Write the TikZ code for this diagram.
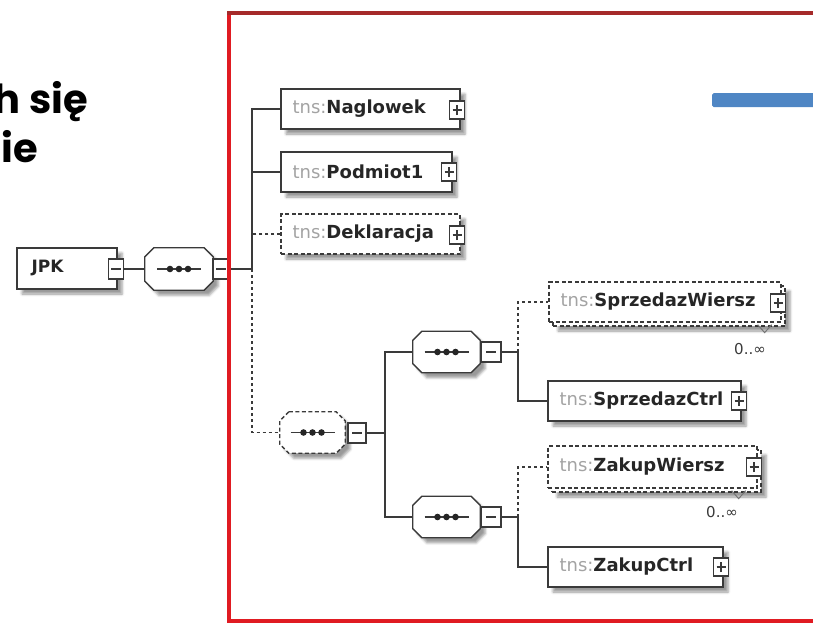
\documentclass[tikz,border=0pt]{standalone}
\usepackage{fontspec}
\usetikzlibrary{shadows.blur,calc}
\newfontfamily\boxfont{DejaVu Sans}
\newfontfamily\headfont{Poppins}

\definecolor{frameRed}{HTML}{E01B22}
\definecolor{frameTop}{HTML}{A52A2A}
\definecolor{barBlue}{HTML}{4F86C4}
\definecolor{ink}{HTML}{3A3A3A}
\definecolor{tnsGray}{HTML}{A3A3A3}
\definecolor{nameInk}{HTML}{262626}

\newcommand\elname[1]{{\color{tnsGray}tns:}{\bfseries\color{nameInk}#1}}

% octagonal compositor outline with the "sequence" glyph inside
\newcommand\octagonat[2][]{%
  \path[seqline,#1]
    ([xshift=9pt]#2.north west) -- ([xshift=-9pt]#2.north east)
    -- ([yshift=-9pt]#2.north east) -- ([yshift=9pt]#2.south east)
    -- ([xshift=-9pt]#2.south east) -- ([xshift=9pt]#2.south west)
    -- ([yshift=9pt]#2.south west) -- ([yshift=-9pt]#2.north west) -- cycle;
  \draw[ink, line width=1.3pt] ([xshift=-22pt]#2.center) -- ([xshift=22pt]#2.center);
  \fill[nameInk] ([xshift=-9pt]#2.center) circle[radius=3.3pt]
             (#2.center) circle[radius=3.3pt]
             ([xshift=9pt]#2.center) circle[radius=3.3pt];}

\pgfdeclarelayer{background}
\pgfsetlayers{background,main}

\tikzset{
  softshadow/.style={blur shadow={shadow xshift=5pt, shadow yshift=-5pt,
      shadow blur radius=2.5pt, shadow opacity=40}},
  elembox/.style={rectangle, draw=ink, line width=1.3pt, fill=white,
      inner sep=0pt, minimum height=40pt, softshadow},
  optbox/.style={elembox, dash pattern=on 4pt off 2.5pt},
  backbox/.style={optbox},
  seqbox/.style={rectangle, inner sep=0pt, minimum width=67pt, minimum height=41pt},
  seqline/.style={draw=ink, line width=1.3pt, fill=white, softshadow},
  optline/.style={dash pattern=on 4pt off 2.5pt},
  signbox/.style={rectangle, draw=ink, line width=1.1pt, fill=white,
      inner sep=0pt, minimum width=15pt, minimum height=18pt},
  plusbox/.style={signbox, path picture={
      \draw[ink, line width=1.1pt]
        ([xshift=-4.5pt]path picture bounding box.center) --
        ([xshift=4.5pt]path picture bounding box.center)
        ([yshift=-5pt]path picture bounding box.center) --
        ([yshift=5pt]path picture bounding box.center);}},
  minusbox/.style={signbox, minimum height=20pt, path picture={
      \draw[ink, line width=1.1pt]
        ([xshift=-5pt]path picture bounding box.center) --
        ([xshift=5pt]path picture bounding box.center);}},
  conn/.style={draw=ink, line width=1.3pt},
  optconn/.style={conn, dash pattern=on 3pt off 3pt},
  elemlabel/.style={anchor=west, inner sep=0pt,
      font=\boxfont\fontsize{18}{20}\selectfont},
  occlabel/.style={inner sep=0pt, text=ink,
      font=\boxfont\fontsize{15}{17}\selectfont},
  headtext/.style={inner sep=0pt, anchor=base east,
      font=\headfont\bfseries\fontsize{40}{46}\selectfont},
}

\begin{document}
\begin{tikzpicture}[x=1pt, y=-1pt]
\useasboundingbox (0,0) rectangle (813,624);

% heading fragment on the left
\node[headtext] (line1) at (88,113) {h się};
\node[headtext] (line2) at (38,162) {nie};

% blue bar at the upper right
\node[fill=barBlue, rounded corners=1.5pt, inner sep=0pt, anchor=north west,
      minimum width=110pt, minimum height=14pt] (bar) at (712,93) {};

% root element and its sequence
\node[elembox, minimum width=100pt, minimum height=41pt] (jpk) at (67,268.5) {};
\node[anchor=west, inner sep=0pt, font=\boxfont\bfseries\fontsize{17}{20}\selectfont,
      text=nameInk] (jpkT) at ($(jpk.west)+(15,0)$) {JPK};
\node[minusbox] (jpkMinus) at (116,269) {};

\node[seqbox, minimum width=68pt, minimum height=42pt] (rseq) at (179,269) {};
\octagonat{rseq}
\node[minusbox, minimum width=16pt] (rseqMinus) at (221,269) {};

% first level children
\node[elembox, minimum width=179pt] (nag) at (370.5,109) {};
\node[elemlabel] (nagT) at ($(nag.west)+(12,0)$) {\elname{Naglowek}};
\node[plusbox] (nagPlus) at (457,110) {};

\node[elembox, minimum width=171pt] (pod) at (366.5,172) {};
\node[elemlabel] (podT) at ($(pod.west)+(12,0)$) {\elname{Podmiot1}};
\node[plusbox] (podPlus) at (449,172) {};

\node[optbox, minimum width=179pt] (dek) at (370.5,234) {};
\node[elemlabel] (dekT) at ($(dek.west)+(12,0)$) {\elname{Deklaracja}};
\node[plusbox] (dekPlus) at (457,235) {};

% optional inner sequence
\node[seqbox, minimum width=65pt] (iseq) at (312.5,432.5) {};
\octagonat[optline]{iseq}
\node[minusbox, minimum width=18pt] (iseqMinus) at (357,433) {};

% upper and lower sequences
\node[seqbox] (useq) at (446.5,352) {};
\octagonat{useq}
\node[minusbox, minimum width=20pt] (useqMinus) at (491,352) {};
\node[seqbox] (lseq) at (446.5,517) {};
\octagonat{lseq}
\node[minusbox, minimum width=20pt] (lseqMinus) at (491,517) {};

% sales rows (0..unbounded) and sales control
\node[backbox, minimum width=232pt] (swBack) at (669,306) {};
\node[optbox, minimum width=232pt, blur shadow={shadow opacity=0}] (sw) at (665,302) {};
\node[elemlabel] (swT) at ($(sw.west)+(12,0)$) {\elname{SprzedazWiersz}};
\node[plusbox] (swPlus) at (778,303) {};
\node[occlabel] (swOcc) at (750,349) {0..∞};

\node[elembox, minimum width=193pt] (sc) at (644.5,401) {};
\node[elemlabel] (scT) at ($(sc.west)+(12,0)$) {\elname{SprzedazCtrl}};
\node[plusbox] (scPlus) at (739,401) {};

% purchase rows (0..unbounded) and purchase control
\node[backbox, minimum width=209pt, minimum height=42pt] (zwBack) at (656.5,471) {};
\node[optbox, minimum width=209pt, minimum height=42pt, blur shadow={shadow opacity=0}] (zw) at (652.5,467) {};
\node[elemlabel] (zwT) at ($(zw.west)+(12,0)$) {\elname{ZakupWiersz}};
\node[plusbox] (zwPlus) at (754,467) {};
\node[occlabel] (zwOcc) at (722,512) {0..∞};

\node[elembox, minimum width=175pt] (zc) at (635.5,567) {};
\node[elemlabel] (zcT) at ($(zc.west)+(12,0)$) {\elname{ZakupCtrl}};
\node[plusbox] (zcPlus) at (721,567) {};

% junctions of the connector trees
\coordinate (j1) at (252,269);
\coordinate (j2) at (385,433);
\coordinate (j3) at (518,352);
\coordinate (j4) at (518,517);

\begin{pgfonlayer}{background}
  \draw[conn] (jpkMinus.east) -- (rseq.west);
  \draw[conn] (rseqMinus.east) -- (j1);
  \draw[conn] (nag.west) -| (j1);
  \draw[conn] (pod.west) -- (pod.west -| j1);
  \draw[optconn] (dek.west) -- (dek.west -| j1);
  \draw[optconn] (j1) |- (iseq.west);

  \draw[conn] (iseqMinus.east) -- (j2);
  \draw[conn] (useq.west) -| (j2) |- (lseq.west);

  \draw[conn] (useqMinus.east) -- (j3);
  \draw[conn] (j3) |- (sc.west);
  \draw[optconn] (j3) |- (sw.west);

  \draw[conn] (lseqMinus.east) -- (j4);
  \draw[conn] (j4) |- (zc.west);
  \draw[optconn] (j4) |- (zw.west);
\end{pgfonlayer}

% occurrence chevrons under the repeated rows
\draw[ink!70, line width=1pt] ($(sw.south east)+(-24,2)$) -- ($(sw.south east)+(-17,10)$) -- ($(sw.south east)+(-10,2)$);
\draw[ink!70, line width=1pt] ($(zw.south east)+(-26,2)$) -- ($(zw.south east)+(-19,10)$) -- ($(zw.south east)+(-12,2)$);

% red frame around the schema
\draw[frameRed, line width=4pt] (840,621) -- (229,621) -- (229,11);
\draw[frameTop, line width=4pt] (227,13) -- (840,13);
\end{tikzpicture}
\end{document}
